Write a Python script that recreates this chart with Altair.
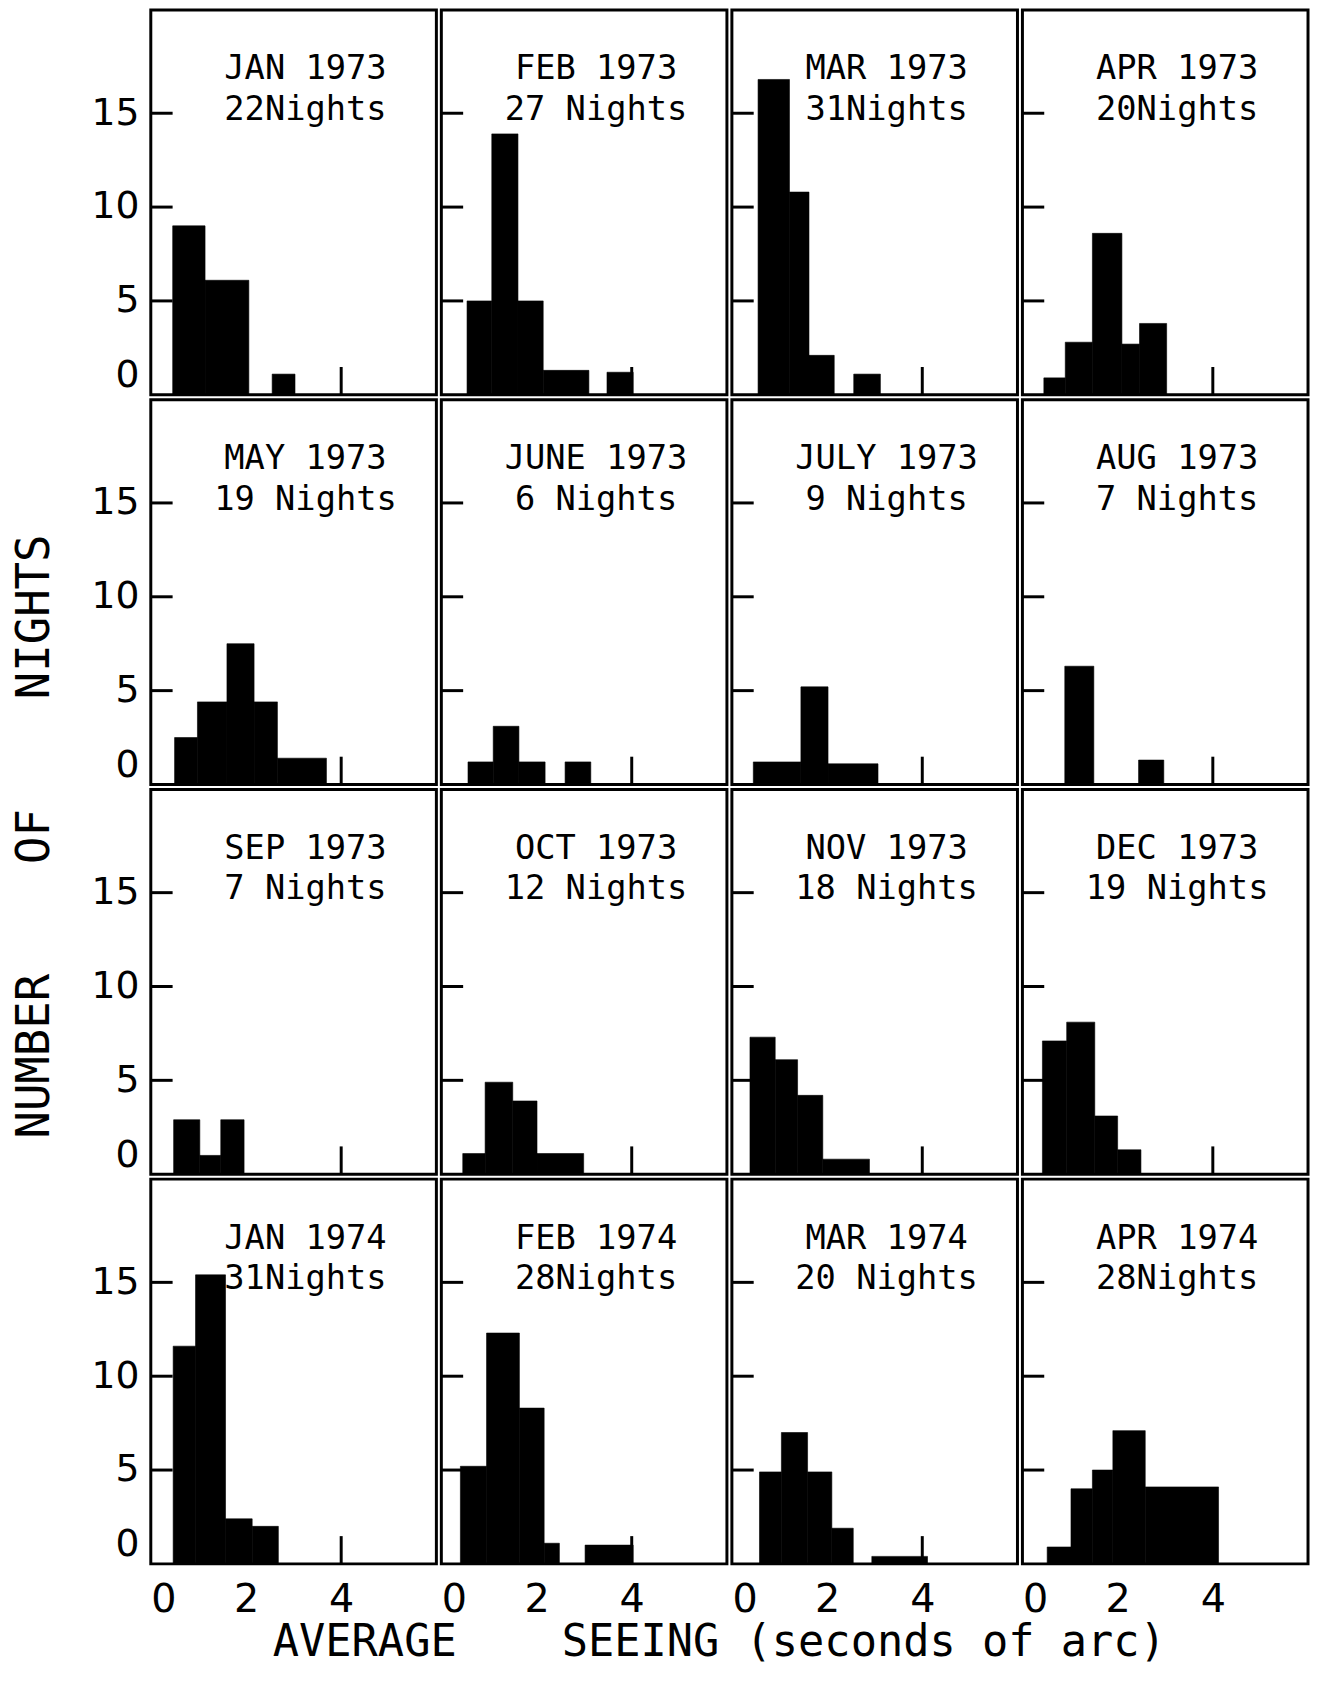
import altair as alt
import pandas as pd

# ---- data ----
panels = ["JAN 1973", "FEB 1973", "MAR 1973", "APR 1973",
          "MAY 1973", "JUNE 1973", "JULY 1973", "AUG 1973",
          "SEP 1973", "OCT 1973", "NOV 1973", "DEC 1973",
          "JAN 1974", "FEB 1974", "MAR 1974", "APR 1974"]
nights = ["22Nights", "27 Nights", "31Nights", "20Nights",
          "19 Nights", "6 Nights", "9 Nights", "7 Nights",
          "7 Nights", "12 Nights", "18 Nights", "19 Nights",
          "31Nights", "28Nights", "20 Nights", "28Nights"]

# bar left edge, right edge (seconds of arc) and height (number of nights)
bar_start = [
    [0.46, 1.14, 2.55],
    [0.54, 1.06, 1.61, 2.14, 3.48],
    [0.55, 1.21, 1.62, 2.56],
    [0.45, 0.90, 1.47, 2.09, 2.46],
    [0.50, 0.98, 1.60, 2.17, 2.66],
    [0.56, 1.09, 1.63, 2.60],
    [0.45, 1.45, 2.02],
    [0.89, 2.44],
    [0.48, 1.03, 1.47],
    [0.45, 0.92, 1.50, 2.01],
    [0.38, 0.91, 1.38, 1.91],
    [0.42, 0.93, 1.52, 2.00],
    [0.47, 0.94, 1.57, 2.13],
    [0.40, 0.95, 1.64, 2.16, 3.02],
    [0.58, 1.04, 1.59, 2.10, 2.94],
    [0.52, 1.02, 1.47, 1.90, 2.58],
]
bar_end = [
    [1.14, 2.06, 3.03],
    [1.06, 1.61, 2.14, 3.10, 4.03],
    [1.21, 1.62, 2.15, 3.12],
    [0.90, 1.47, 2.09, 2.46, 3.03],
    [0.98, 1.60, 2.17, 2.66, 3.69],
    [1.09, 1.63, 2.18, 3.14],
    [1.45, 2.02, 3.07],
    [1.50, 2.97],
    [1.03, 1.47, 1.96],
    [0.92, 1.50, 2.01, 2.99],
    [0.91, 1.38, 1.91, 2.89],
    [0.93, 1.52, 2.00, 2.49],
    [0.94, 1.57, 2.13, 2.68],
    [0.95, 1.64, 2.16, 2.48, 4.03],
    [1.04, 1.59, 2.10, 2.55, 4.11],
    [1.02, 1.47, 1.90, 2.58, 4.12],
]
bar_count = [
    [9.0, 6.1, 1.1],
    [5.0, 13.9, 5.0, 1.3, 1.2],
    [16.8, 10.8, 2.1, 1.1],
    [0.9, 2.8, 8.6, 2.7, 3.8],
    [2.5, 4.4, 7.5, 4.4, 1.4],
    [1.2, 3.1, 1.2, 1.2],
    [1.2, 5.2, 1.1],
    [6.3, 1.3],
    [2.9, 1.0, 2.9],
    [1.1, 4.9, 3.9, 1.1],
    [7.3, 6.1, 4.2, 0.8],
    [7.1, 8.1, 3.1, 1.3],
    [11.6, 15.4, 2.4, 2.0],
    [5.2, 12.3, 8.3, 1.1, 1.0],
    [4.9, 7.0, 4.9, 1.9, 0.4],
    [0.9, 4.0, 5.0, 7.1, 4.1],
]

x_labels = [0, 2, 4]
y_labels = [0, 5, 10, 15]
inner_y_ticks = [5, 10, 15]
inner_x_ticks = [4]

NB = "\u00a0"
x_title = "AVERAGE" + NB * 3 + " SEEING (seconds of arc)"
y_title = "NUMBER" + NB * 3 + " OF" + NB * 3 + " NIGHTS"

W, H = 288, 388
FONT = "DejaVu Sans Mono"
NUMFONT = "DejaVu Sans"

xscale = alt.Scale(domain=[0, 6], nice=False, zero=False)
yscale = alt.Scale(domain=[0, 20.5], nice=False)

x_axis = alt.Axis(values=x_labels, title=None, ticks=False, domain=False,
                  grid=False, labelFontSize=40, labelPadding=16,
                  labelFont=NUMFONT, labelColor="black")
y_axis = alt.Axis(values=y_labels, title=None, ticks=False, domain=False,
                  grid=False, labelFontSize=38, labelPadding=12,
                  labelFont=NUMFONT, labelColor="black",
                  labelBaseline={"condition": {"test": "datum.value == 0", "value": "bottom"},
                                 "value": "middle"})


def panel(i):
    r, c = divmod(i, 4)
    xa = x_axis if r == 3 else None
    ya = y_axis if c == 0 else None

    bars_df = pd.DataFrame({"x0": bar_start[i], "x1": bar_end[i], "n": bar_count[i]})
    bars = alt.Chart(bars_df).mark_rect(
        color="black", stroke="black", strokeWidth=0.6
    ).encode(
        x=alt.X("x0:Q", scale=xscale, axis=xa),
        x2="x1:Q",
        y=alt.Y("n:Q", scale=yscale, axis=ya),
        y2=alt.datum(0),
    )

    yt = alt.Chart(pd.DataFrame({"yt": inner_y_ticks})).mark_rule(
        color="black", strokeWidth=3
    ).encode(
        x=alt.value(0), x2=alt.value(22),
        y=alt.Y("yt:Q", scale=yscale, axis=ya),
    )

    xt = alt.Chart(pd.DataFrame({"xt": inner_x_ticks})).mark_rule(
        color="black", strokeWidth=3
    ).encode(
        x=alt.X("xt:Q", scale=xscale, axis=xa),
        y=alt.value(H - 28), y2=alt.value(H),
    )

    lab = alt.Chart(pd.DataFrame({"line1": [panels[i]], "line2": [nights[i]]}))
    l1 = lab.mark_text(font=FONT, fontSize=34, align="center",
                       baseline="alphabetic", color="black").encode(
        x=alt.value(156), y=alt.value(70), text="line1:N")
    l2 = lab.mark_text(font=FONT, fontSize=34, align="center",
                       baseline="alphabetic", color="black").encode(
        x=alt.value(156), y=alt.value(111), text="line2:N")

    return alt.layer(bars, yt, xt, l1, l2).properties(width=W, height=H)


rows = [alt.hconcat(*[panel(r * 4 + c) for c in range(4)], spacing=0)
        for r in range(4)]

grid = alt.vconcat(*rows, spacing=0).properties(
    title=alt.TitleParams(x_title, orient="bottom", anchor="middle",
                          fontSize=44, font=FONT, fontWeight="normal",
                          color="black", offset=0, dx=20)
)

chart = alt.hconcat(grid, spacing=0).properties(
    title=alt.TitleParams(y_title, orient="left", anchor="middle",
                          fontSize=46, font=FONT, fontWeight="normal",
                          color="black", offset=31),
    padding={"left": 4, "top": -7, "right": 0, "bottom": 0},
    background="white",
).configure_view(stroke="black", strokeWidth=3)

chart.save("out.html", embed_options={"renderer": "svg", "actions": False})
